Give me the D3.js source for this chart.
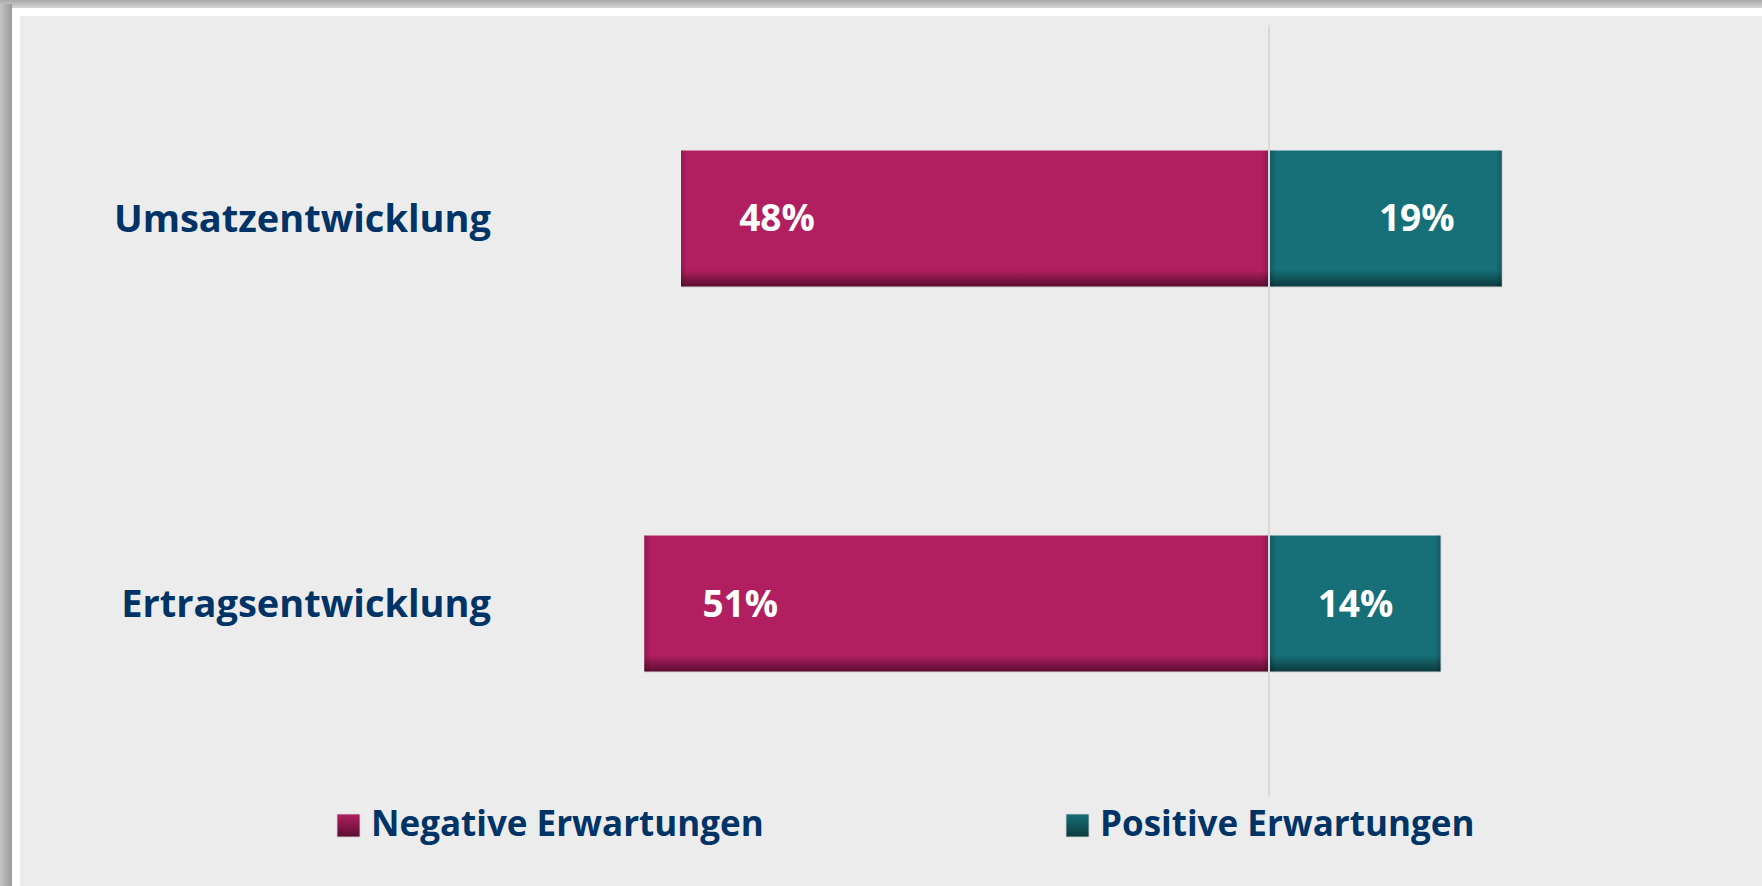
<!DOCTYPE html>
<html>
<head>
<meta charset="utf-8">
<script src="https://cdn.jsdelivr.net/npm/d3@7"></script>
<style>
  html, body { margin: 0; padding: 0; background: #ffffff; overflow: hidden; }
  text { font-family: "Open Sans", "Noto Sans", sans-serif; font-weight: 700; }
</style>
</head>
<body>
<div id="chart"></div>
<script>
// data
var categories = ["Umsatzentwicklung", "Ertragsentwicklung"];
var negativeValues = [48, 51];
var positiveValues = [19, 14];
var seriesNames = ["Negative Erwartungen", "Positive Erwartungen"];

var svgWidth = 1762;
var svgHeight = 886;

var svg = d3.select("#chart")
    .append("svg")
    .attr("width", svgWidth)
    .attr("height", svgHeight);

var defs = svg.append("defs");

// outer shadow of the frame
var topShade = defs.append("linearGradient")
    .attr("id", "topShade").attr("x1", 0).attr("y1", 0).attr("x2", 0).attr("y2", 1);
topShade.append("stop").attr("offset", 0).attr("stop-color", "#a9a9a9");
topShade.append("stop").attr("offset", 1).attr("stop-color", "#d4d4d4");

var leftShade = defs.append("linearGradient")
    .attr("id", "leftShade").attr("x1", 0).attr("y1", 0).attr("x2", 1).attr("y2", 0);
leftShade.append("stop").attr("offset", 0).attr("stop-color", "#c4c4c4");
leftShade.append("stop").attr("offset", 1).attr("stop-color", "#9a9a9a");

svg.append("rect").attr("width", svgWidth).attr("height", svgHeight).attr("fill", "#ffffff");
svg.append("rect").attr("x", 0).attr("y", 0).attr("width", svgWidth).attr("height", 8).attr("fill", "url(#topShade)");
svg.append("rect").attr("x", 0).attr("y", 4).attr("width", 12).attr("height", svgHeight).attr("fill", "url(#leftShade)");
svg.append("rect").attr("x", 12).attr("y", 8).attr("width", svgWidth).attr("height", svgHeight).attr("fill", "#ffffff");
svg.append("rect").attr("x", 20).attr("y", 16).attr("width", svgWidth).attr("height", svgHeight).attr("fill", "#ececec");

var colors = {
    neg: { base: "#b11f60", dark: "#5c0e31" },
    pos: { base: "#176f77", dark: "#0c3a3e" }
};

// vertical gradients (dark bottom band)
Object.keys(colors).forEach(function(key) {
    var g = defs.append("linearGradient")
        .attr("id", "bar-" + key).attr("x1", 0).attr("y1", 0).attr("x2", 0).attr("y2", 1);
    g.append("stop").attr("offset", 0).attr("stop-color", colors[key].base);
    g.append("stop").attr("offset", 0.88).attr("stop-color", colors[key].base);
    g.append("stop").attr("offset", 1).attr("stop-color", colors[key].dark);

    var s = defs.append("linearGradient")
        .attr("id", "swatch-" + key).attr("x1", 0).attr("y1", 0).attr("x2", 0).attr("y2", 1);
    s.append("stop").attr("offset", 0).attr("stop-color", colors[key].base);
    s.append("stop").attr("offset", 1).attr("stop-color", colors[key].dark);
});

var zeroX = 1269;
var pxPerPct = 12.25;

var xScale = d3.scaleLinear()
    .domain([-60, 40])
    .range([zeroX - 60 * pxPerPct, zeroX + 40 * pxPerPct]);

var yScale = d3.scaleBand()
    .domain(categories)
    .range([150.5, 671.5])
    .paddingInner(0.6468)
    .paddingOuter(0);

var rows = categories.map(function(c, i) {
    return { cat: c, neg: negativeValues[i], pos: positiveValues[i] };
});

var barData = [];
rows.forEach(function(r) {
    barData.push({ cat: r.cat, key: "neg", value: r.neg, x0: xScale(-r.neg), x1: xScale(0) - 1 });
    barData.push({ cat: r.cat, key: "pos", value: r.pos, x0: xScale(0) + 1, x1: xScale(r.pos) });
});

var chartGroup = svg.append("g");

// soft shadow under bars
chartGroup.selectAll(".shadow")
    .data(barData)
    .enter()
    .append("rect")
    .attr("class", "shadow")
    .attr("x", d => d.x0 + 1)
    .attr("y", d => yScale(d.cat) + 1)
    .attr("width", d => d.x1 - d.x0)
    .attr("height", yScale.bandwidth())
    .attr("fill", "#d2d2d2");

chartGroup.selectAll(".bar")
    .data(barData)
    .enter()
    .append("rect")
    .attr("class", "bar")
    .attr("x", d => d.x0)
    .attr("y", d => yScale(d.cat))
    .attr("width", d => d.x1 - d.x0)
    .attr("height", yScale.bandwidth())
    .attr("fill", d => "url(#bar-" + d.key + ")");

// darker side edges
barData.forEach(function(d, i) {
    var w = d.x1 - d.x0;
    var e = 6 / w;
    var g = defs.append("linearGradient")
        .attr("id", "edge-" + i).attr("x1", 0).attr("y1", 0).attr("x2", 1).attr("y2", 0);
    g.append("stop").attr("offset", 0).attr("stop-color", "#000").attr("stop-opacity", 0.18);
    g.append("stop").attr("offset", e).attr("stop-color", "#000").attr("stop-opacity", 0);
    g.append("stop").attr("offset", 1 - e).attr("stop-color", "#000").attr("stop-opacity", 0);
    g.append("stop").attr("offset", 1).attr("stop-color", "#000").attr("stop-opacity", 0.18);
    chartGroup.append("rect")
        .attr("x", d.x0)
        .attr("y", yScale(d.cat))
        .attr("width", w)
        .attr("height", yScale.bandwidth())
        .attr("fill", "url(#edge-" + i + ")");
});

// zero line
chartGroup.append("line")
    .attr("x1", xScale(0)).attr("x2", xScale(0))
    .attr("y1", 25).attr("y2", 797)
    .attr("stroke", "#d9d9d9")
    .attr("stroke-width", 2);

// value labels
chartGroup.selectAll(".valueLabel")
    .data(barData)
    .enter()
    .append("text")
    .attr("class", "valueLabel")
    .attr("x", d => d.key === "neg" ? d.x0 + 96 : d.x1 - 85)
    .attr("y", d => yScale(d.cat) + yScale.bandwidth() / 2 + 13)
    .attr("text-anchor", "middle")
    .attr("fill", "#ffffff")
    .style("font-size", "37px")
    .text(d => d.value + "%");

// category labels
chartGroup.selectAll(".catLabel")
    .data(categories)
    .enter()
    .append("text")
    .attr("class", "catLabel")
    .attr("x", 491)
    .attr("y", d => yScale(d) + yScale.bandwidth() / 2 + 13.5)
    .attr("text-anchor", "end")
    .attr("fill", "#003366")
    .style("font-size", "38px")
    .text(d => d);

// legend
var legendX = [337, 1066];
var legend = svg.selectAll(".legend")
    .data(seriesNames)
    .enter()
    .append("g")
    .attr("class", "legend")
    .attr("transform", (d, i) => `translate(${legendX[i]}, 814)`);

legend.append("rect")
    .attr("width", 23)
    .attr("height", 23)
    .attr("fill", (d, i) => "url(#swatch-" + (i === 0 ? "neg" : "pos") + ")")
    .attr("stroke", "#d8d8d8")
    .attr("stroke-width", 0.8);

legend.append("text")
    .attr("x", 34)
    .attr("y", 22)
    .attr("fill", "#003366")
    .style("font-size", "35px")
    .text(d => d);
</script>
</body>
</html>
